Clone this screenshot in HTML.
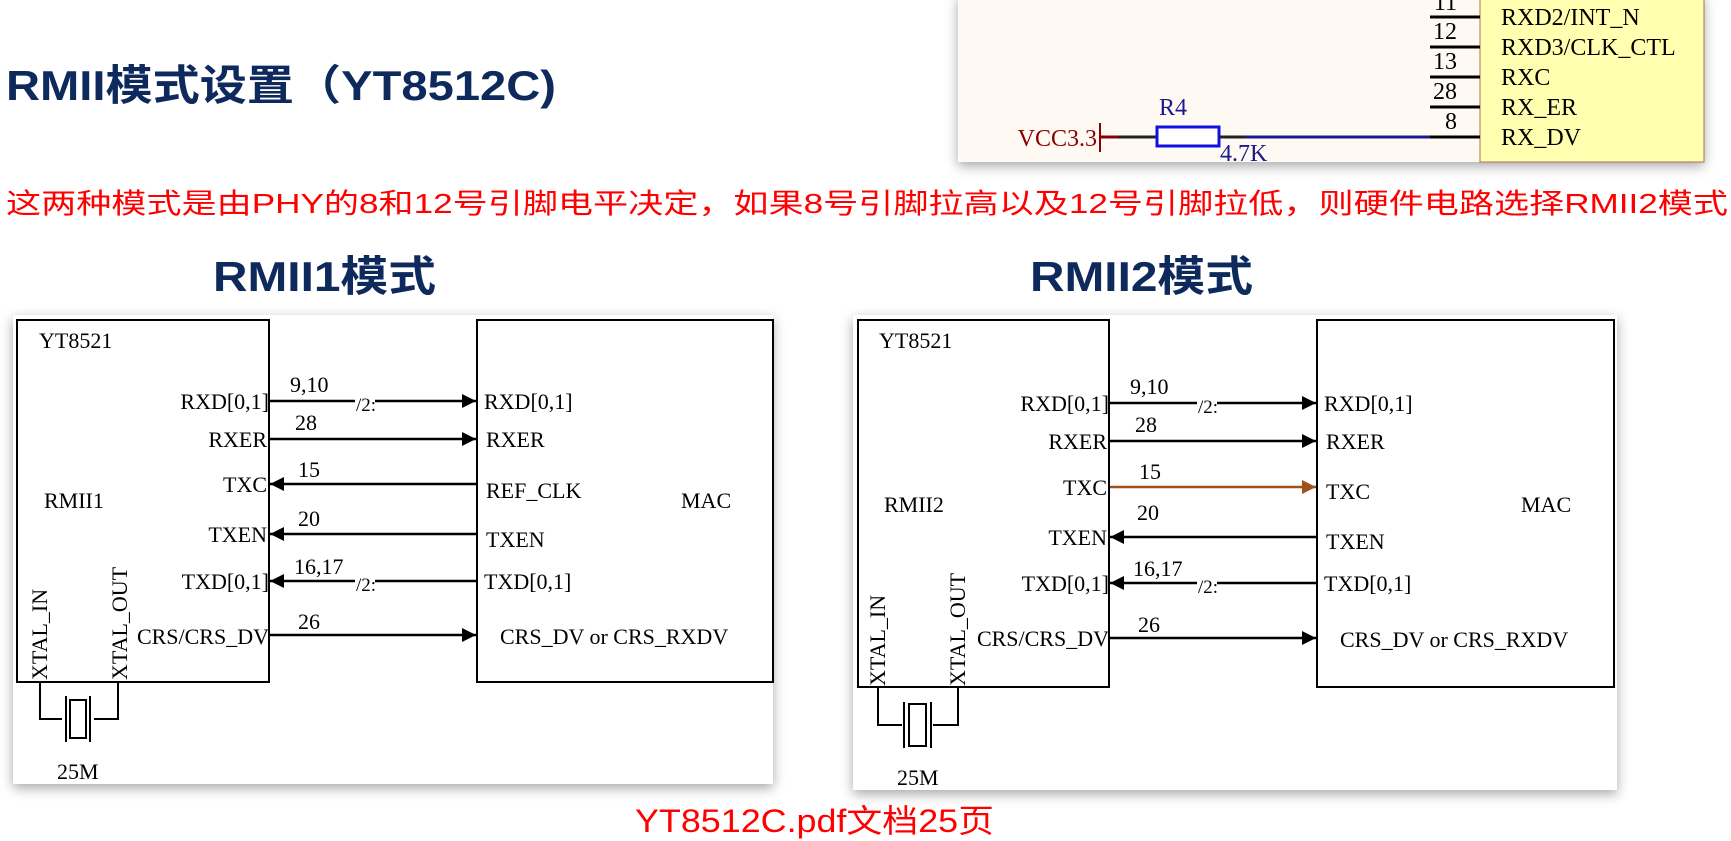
<!DOCTYPE html>
<html><head><meta charset="utf-8"><style>
html,body{margin:0;padding:0;background:#fff;}
svg{display:block;}
</style></head><body>
<svg width="1731" height="841" viewBox="0 0 1731 841" xmlns="http://www.w3.org/2000/svg">
<defs>
<filter id="sh" x="-5%" y="-5%" width="110%" height="115%"><feDropShadow dx="0" dy="4" stdDeviation="6" flood-color="#000" flood-opacity="0.35"/></filter>
<marker id="ah" markerWidth="14" markerHeight="14" refX="14" refY="7" orient="auto" markerUnits="userSpaceOnUse"><path d="M0,0 L14,7 L0,14 z" fill="#000"/></marker>
<marker id="ahb" markerWidth="14" markerHeight="14" refX="14" refY="7" orient="auto" markerUnits="userSpaceOnUse"><path d="M0,0 L14,7 L0,14 z" fill="#a0521d"/></marker>
</defs>

<text x="6" y="100" font-family="Liberation Sans, Noto Sans CJK SC, sans-serif" font-weight="bold" font-size="42" fill="#0e2a5c" textLength="550" lengthAdjust="spacingAndGlyphs">RMII模式设置（YT8512C)</text>

<g filter="url(#sh)">
<rect x="958" y="-5" width="746" height="167" fill="#fefaf3"/>
</g>
<rect x="1480" y="-5" width="224" height="167" fill="#ffffaf" stroke="#b07050" stroke-width="1"/>
<g stroke="#000" stroke-width="3">
<line x1="1430" y1="17" x2="1480" y2="17"/>
<line x1="1430" y1="47" x2="1480" y2="47"/>
<line x1="1430" y1="77" x2="1480" y2="77"/>
<line x1="1430" y1="107" x2="1480" y2="107"/>
<line x1="1430" y1="137" x2="1480" y2="137"/>
</g>
<g font-family="Liberation Serif, serif" font-size="24" fill="#000">
<text x="1457" y="10" text-anchor="end">11</text>
<text x="1457" y="39" text-anchor="end">12</text>
<text x="1457" y="69" text-anchor="end">13</text>
<text x="1457" y="99" text-anchor="end">28</text>
<text x="1457" y="129" text-anchor="end">8</text>
<text x="1501" y="25">RXD2/INT_N</text>
<text x="1501" y="55">RXD3/CLK_CTL</text>
<text x="1501" y="85">RXC</text>
<text x="1501" y="115">RX_ER</text>
<text x="1501" y="145">RX_DV</text>
</g>
<text x="1097" y="146" text-anchor="end" font-family="Liberation Serif, serif" font-size="24" fill="#8b0000">VCC3.3</text>
<line x1="1100" y1="123" x2="1100" y2="152" stroke="#8b0000" stroke-width="2"/>
<line x1="1100" y1="137" x2="1118" y2="137" stroke="#8b0000" stroke-width="3"/>
<line x1="1118" y1="137" x2="1157" y2="137" stroke="#222" stroke-width="3"/>
<rect x="1157" y="127" width="62" height="19" fill="#fff" stroke="#1010e0" stroke-width="3"/>
<line x1="1219" y1="137" x2="1245" y2="137" stroke="#222" stroke-width="3"/>
<line x1="1245" y1="137" x2="1430" y2="137" stroke="#1a1a8a" stroke-width="3"/>
<text x="1159" y="115" font-family="Liberation Serif, serif" font-size="24" fill="#1a1a8a">R4</text>
<text x="1220" y="161" font-family="Liberation Serif, serif" font-size="24" fill="#1a1a8a">4.7K</text>

<text x="6" y="213" font-family="Liberation Sans, Noto Sans CJK SC, sans-serif" font-size="28" fill="#ff0000" textLength="1722" lengthAdjust="spacingAndGlyphs">这两种模式是由PHY的8和12号引脚电平决定，如果8号引脚拉高以及12号引脚拉低，则硬件电路选择RMII2模式</text>

<text x="213" y="291" font-family="Liberation Sans, Noto Sans CJK SC, sans-serif" font-weight="bold" font-size="42" fill="#0e2a5c" textLength="223" lengthAdjust="spacingAndGlyphs">RMII1模式</text>
<text x="1030" y="291" font-family="Liberation Sans, Noto Sans CJK SC, sans-serif" font-weight="bold" font-size="42" fill="#0e2a5c" textLength="223" lengthAdjust="spacingAndGlyphs">RMII2模式</text>

<g filter="url(#sh)">
<rect x="13" y="315" width="760" height="469" fill="#fff"/>
<rect x="853" y="315" width="764" height="475" fill="#fff"/>
</g>

<!-- left diagram -->
<g font-family="Liberation Serif, serif" font-size="22" fill="#000">
<rect x="17" y="320" width="252" height="362" fill="none" stroke="#000" stroke-width="2"/>
<rect x="477" y="320" width="296" height="362" fill="none" stroke="#000" stroke-width="2"/>
<text x="39" y="348">YT8521</text>
<text x="44" y="508">RMII1</text>
<text x="681" y="508">MAC</text>
<g stroke="#000" stroke-width="2.5">
<line x1="270" y1="401" x2="476" y2="401" marker-end="url(#ah)"/>
<line x1="270" y1="439" x2="476" y2="439" marker-end="url(#ah)"/>
<line x1="476" y1="484" x2="270" y2="484" marker-end="url(#ah)"/>
<line x1="476" y1="534" x2="270" y2="534" marker-end="url(#ah)"/>
<line x1="476" y1="581" x2="270" y2="581" marker-end="url(#ah)"/>
<line x1="270" y1="635" x2="476" y2="635" marker-end="url(#ah)"/>
</g>
<rect x="355" y="396" width="20" height="10" fill="#fff"/>
<rect x="355" y="576" width="20" height="10" fill="#fff"/>
<text x="366" y="411" font-size="19" text-anchor="middle">/2:</text>
<text x="366" y="591" font-size="19" text-anchor="middle">/2:</text>
<g text-anchor="end">
<text x="269" y="409">RXD[0,1]</text>
<text x="267" y="447">RXER</text>
<text x="267" y="492">TXC</text>
<text x="267" y="542">TXEN</text>
<text x="269" y="589">TXD[0,1]</text>
<text x="269" y="644">CRS/CRS_DV</text>
</g>
<text x="290" y="392">9,10</text>
<text x="295" y="430">28</text>
<text x="298" y="477">15</text>
<text x="298" y="526">20</text>
<text x="294" y="574">16,17</text>
<text x="298" y="629">26</text>
<text x="484" y="409">RXD[0,1]</text>
<text x="486" y="447">RXER</text>
<text x="486" y="498">REF_CLK</text>
<text x="486" y="547">TXEN</text>
<text x="484" y="589">TXD[0,1]</text>
<text x="500" y="644">CRS_DV or CRS_RXDV</text>
<text x="47" y="680" transform="rotate(-90 47 680)">XTAL_IN</text>
<text x="127" y="680" transform="rotate(-90 127 680)">XTAL_OUT</text>
<g stroke="#000" stroke-width="2" fill="none">
<polyline points="40,682 40,719 62,719"/>
<polyline points="118,682 118,719 94,719"/>
<line x1="66" y1="696" x2="66" y2="742"/>
<line x1="90" y1="696" x2="90" y2="742"/>
<rect x="70" y="700" width="16" height="38"/>
</g>
<text x="57" y="779">25M</text>
</g>

<!-- right diagram -->
<g font-family="Liberation Serif, serif" font-size="22" fill="#000">
<rect x="858" y="320" width="251" height="367" fill="none" stroke="#000" stroke-width="2"/>
<rect x="1317" y="320" width="297" height="367" fill="none" stroke="#000" stroke-width="2"/>
<text x="879" y="348">YT8521</text>
<text x="884" y="512">RMII2</text>
<text x="1521" y="512">MAC</text>
<g stroke="#000" stroke-width="2.5">
<line x1="1110" y1="403" x2="1316" y2="403" marker-end="url(#ah)"/>
<line x1="1110" y1="441" x2="1316" y2="441" marker-end="url(#ah)"/>
<line x1="1316" y1="537" x2="1110" y2="537" marker-end="url(#ah)"/>
<line x1="1316" y1="583" x2="1110" y2="583" marker-end="url(#ah)"/>
<line x1="1110" y1="638" x2="1316" y2="638" marker-end="url(#ah)"/>
</g>
<line x1="1110" y1="487" x2="1316" y2="487" stroke="#a0521d" stroke-width="2.5" marker-end="url(#ahb)"/>
<rect x="1197" y="398" width="20" height="10" fill="#fff"/>
<rect x="1197" y="578" width="20" height="10" fill="#fff"/>
<text x="1208" y="413" font-size="19" text-anchor="middle">/2:</text>
<text x="1208" y="593" font-size="19" text-anchor="middle">/2:</text>
<g text-anchor="end">
<text x="1109" y="411">RXD[0,1]</text>
<text x="1107" y="449">RXER</text>
<text x="1107" y="495">TXC</text>
<text x="1107" y="545">TXEN</text>
<text x="1109" y="591">TXD[0,1]</text>
<text x="1109" y="646">CRS/CRS_DV</text>
</g>
<text x="1130" y="394">9,10</text>
<text x="1135" y="432">28</text>
<text x="1139" y="479">15</text>
<text x="1137" y="520">20</text>
<text x="1133" y="576">16,17</text>
<text x="1138" y="632">26</text>
<text x="1324" y="411">RXD[0,1]</text>
<text x="1326" y="449">RXER</text>
<text x="1326" y="499">TXC</text>
<text x="1326" y="549">TXEN</text>
<text x="1324" y="591">TXD[0,1]</text>
<text x="1340" y="647">CRS_DV or CRS_RXDV</text>
<text x="885" y="686" transform="rotate(-90 885 686)">XTAL_IN</text>
<text x="965" y="686" transform="rotate(-90 965 686)">XTAL_OUT</text>
<g stroke="#000" stroke-width="2" fill="none">
<polyline points="878,687 878,725 902,725"/>
<polyline points="958,687 958,725 933,725"/>
<line x1="904" y1="702" x2="904" y2="748"/>
<line x1="931" y1="702" x2="931" y2="748"/>
<rect x="909" y="704" width="17" height="42"/>
</g>
<text x="897" y="785">25M</text>
</g>

<text x="635" y="832" font-family="Liberation Sans, Noto Sans CJK SC, sans-serif" font-size="32" fill="#ff0000" textLength="359" lengthAdjust="spacingAndGlyphs">YT8512C.pdf文档25页</text>
</svg>
</body></html>
